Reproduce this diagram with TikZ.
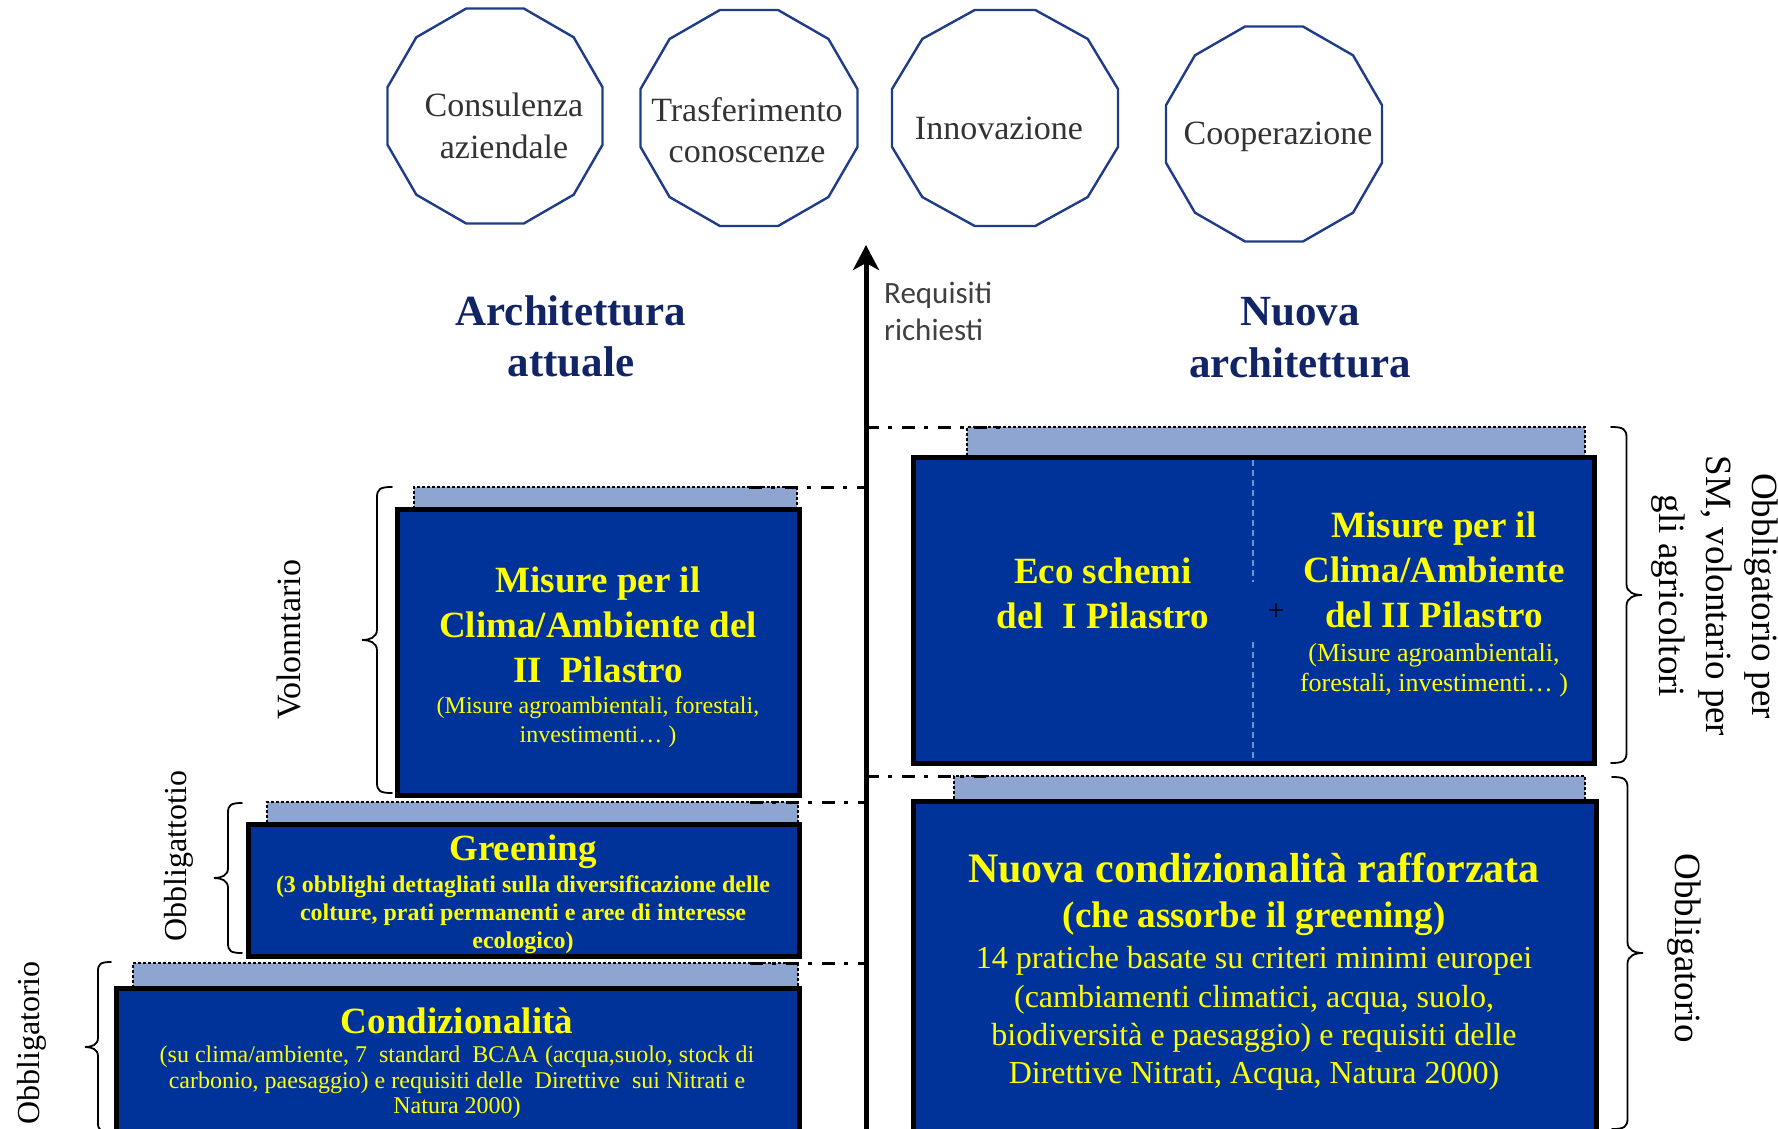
\documentclass[tikz,border=0pt]{standalone}
\usepackage{fontspec}
\setmainfont{Liberation Serif}
\newfontfamily\labelsans{Carlito}
\usetikzlibrary{arrows.meta,calc}

\definecolor{boxblue}{RGB}{0,51,153}
\definecolor{paleblue}{RGB}{143,165,209}
\definecolor{titlenavy}{RGB}{16,36,102}
\definecolor{polyblue}{RGB}{31,60,136}
\definecolor{greytext}{RGB}{51,51,51}
\definecolor{axisgrey}{RGB}{64,64,64}
\definecolor{divider}{RGB}{91,155,213}
\definecolor{textyellow}{RGB}{255,255,0}

\newcommand\fsz[2]{\fontsize{#1}{#2}\selectfont}
% one line of text placed on its baseline
\newcommand\textline[5]{\node[#1, anchor=base] (#2) at (#3,#4) {#5};}
% flat-topped dodecagon: centre x, centre y, half width, half height
\newcommand\dodecagon[4]{%
  \draw[polyline] plot[samples at={15,45,...,345}]
    ({#1+#3/cos(15)*cos(\x)},{#2+#4/cos(15)*sin(\x)}) -- cycle;}
% curly brace opening to the right, tip on the left: x of the hooks, top y, bottom y, depth
\newcommand\bracel[4]{%
  \draw[bracket] (#1,#2)
    .. controls ({#1-0.4*#4},#2) and ({#1-0.5*#4},{#2+2}) .. ({#1-0.5*#4},{#2+0.35*#4})
    -- ({#1-0.5*#4},{(#2+#3)/2-0.35*#4})
    .. controls ({#1-0.5*#4},{(#2+#3)/2-0.08*#4}) and ({#1-0.75*#4},{(#2+#3)/2}) .. ({#1-#4},{(#2+#3)/2})
    .. controls ({#1-0.75*#4},{(#2+#3)/2}) and ({#1-0.5*#4},{(#2+#3)/2+0.08*#4}) .. ({#1-0.5*#4},{(#2+#3)/2+0.35*#4})
    -- ({#1-0.5*#4},{#3-0.35*#4})
    .. controls ({#1-0.5*#4},{#3-2}) and ({#1-0.4*#4},#3) .. (#1,#3);}
% curly brace opening to the left, tip on the right
\newcommand\bracer[4]{%
  \draw[bracket] (#1,#2)
    .. controls ({#1+0.4*#4},#2) and ({#1+0.5*#4},{#2+2}) .. ({#1+0.5*#4},{#2+0.35*#4})
    -- ({#1+0.5*#4},{(#2+#3)/2-0.35*#4})
    .. controls ({#1+0.5*#4},{(#2+#3)/2-0.08*#4}) and ({#1+0.75*#4},{(#2+#3)/2}) .. ({#1+#4},{(#2+#3)/2})
    .. controls ({#1+0.75*#4},{(#2+#3)/2}) and ({#1+0.5*#4},{(#2+#3)/2+0.08*#4}) .. ({#1+0.5*#4},{(#2+#3)/2+0.35*#4})
    -- ({#1+0.5*#4},{#3-0.35*#4})
    .. controls ({#1+0.5*#4},{#3-2}) and ({#1+0.4*#4},#3) .. (#1,#3);}

\begin{document}
\begin{tikzpicture}[x=1pt,y=-1pt,
  polyline/.style={draw=polyblue, line width=2.4pt, line join=round},
  polytext/.style={text=greytext, font=\fsz{34}{40}, inner sep=0pt},
  titletext/.style={text=titlenavy, font=\bfseries\fsz{43}{50}, inner sep=0pt},
  darkbox/.style={draw=black, line width=5pt, fill=boxblue, anchor=north west,
    inner sep=0pt, outer sep=0pt},
  lightbox/.style={draw=black, line width=2.6pt, dash pattern=on 2.6pt off 2.4pt,
    fill=paleblue, anchor=north west, inner sep=0pt, outer sep=0pt},
  headbig/.style={text=textyellow, font=\bfseries\fsz{37}{45}, inner sep=0pt},
  headhuge/.style={text=textyellow, font=\bfseries\fsz{42}{45}, inner sep=0pt},
  notesmall/.style={text=textyellow, font=\fsz{24}{28}, inner sep=0pt},
  notebold/.style={text=textyellow, font=\bfseries\fsz{24}{28}, inner sep=0pt},
  notemid/.style={text=textyellow, font=\fsz{26}{30}, inner sep=0pt},
  notelarge/.style={text=textyellow, font=\fsz{32}{38}, inner sep=0pt},
  sidelabel/.style={text=black, font=\fsz{32}{38}, inner sep=0pt},
  sidelabelr/.style={text=black, font=\fsz{37}{45}, inner sep=0pt},
  dashdot/.style={draw=black, line width=3pt, dash pattern=on 13pt off 9pt on 4pt off 10pt},
  bracket/.style={draw=black, line width=1.8pt, line cap=round},
  axisline/.style={draw=black, line width=5pt,
    -{Stealth[length=25pt, width=26pt, inset=7pt]}},
]
\useasboundingbox (0,0) rectangle (1778,1129);

% ---------- the four services on top ----------
\dodecagon{495}{116}{107.5}{107.5}
\dodecagon{749}{118}{108.5}{108}
\dodecagon{1005}{118}{113}{108}
\dodecagon{1274}{134}{108}{107.5}
\textline{polytext}{adv1}{504}{117}{Consulenza}
\textline{polytext}{adv2}{504}{159}{aziendale}
\textline{polytext}{know1}{747}{122}{Trasferimento}
\textline{polytext}{know2}{747}{163}{conoscenze}
\textline{polytext}{innov}{999}{140}{Innovazione}
\textline{polytext}{coop}{1278}{145}{Cooperazione}

% ---------- column titles ----------
\textline{titletext}{oldt1}{571}{325}{Architettura}
\textline{titletext}{oldt2}{571}{376}{attuale}
\textline{titletext}{newt1}{1300}{325}{Nuova}
\textline{titletext}{newt2}{1300}{377}{architettura}

% ---------- vertical axis ----------
\coordinate (axtop) at (866,245);
\coordinate (axbot) at (866,1140);
\node[text=axisgrey, font=\labelsans\fsz{31}{37}, anchor=base west, inner sep=0pt]
  (req1) at (884,303) {Requisiti};
\node[text=axisgrey, font=\labelsans\fsz{31}{37}, anchor=base west, inner sep=0pt]
  (req2) at (884,340) {richiesti};

% ---------- current architecture (left) ----------
\node[lightbox, minimum width=383pt, minimum height=25pt] (lr1) at (414,487) {};
\node[lightbox, minimum width=531pt, minimum height=25pt] (lr2) at (267,802) {};
\node[lightbox, minimum width=665pt, minimum height=28pt] (lr3) at (133,963) {};
\node[darkbox, minimum width=402pt, minimum height=286pt] (lb1) at (397,509) {};
\node[darkbox, minimum width=551pt, minimum height=132pt] (lb2) at (248,824) {};
\node[darkbox, minimum width=683pt, minimum height=155pt] (lb3) at (116,988) {};

\textline{headbig}{p2a}{598}{592}{Misure per il}
\textline{headbig}{p2b}{598}{637}{Clima/Ambiente del}
\textline{headbig}{p2c}{598}{682}{II~~Pilastro}
\textline{notesmall}{p2d}{598}{713}{(Misure agroambientali, forestali,}
\textline{notesmall}{p2e}{598}{742}{investimenti… )}

\textline{headbig}{gr1}{523}{860}{Greening}
\textline{notebold}{gr2}{523}{892}{(3 obblighi dettagliati sulla diversificazione delle}
\textline{notebold}{gr3}{523}{920}{colture, prati permanenti e aree di interesse}
\textline{notebold}{gr4}{523}{948}{ecologico)}

\textline{headbig}{cd1}{457}{1033}{Condizionalità}
\textline{notesmall}{cd2}{457}{1062}{(su clima/ambiente, 7~~standard~~BCAA (acqua,suolo, stock di}
\textline{notesmall}{cd3}{457}{1088}{carbonio, paesaggio) e requisiti delle~~Direttive~~sui Nitrati e}
\textline{notesmall}{cd4}{457}{1113}{Natura 2000)}

% ---------- new architecture (right) ----------
\node[lightbox, minimum width=618pt, minimum height=33pt] (rr1) at (967,427) {};
\node[lightbox, minimum width=631pt, minimum height=28pt] (rr2) at (954,776) {};
\node[darkbox, minimum width=681pt, minimum height=306pt] (rb1) at (913,457) {};
\node[darkbox, minimum width=683pt, minimum height=345pt] (rb2) at (913,801) {};

\coordinate (divtop) at (1253,460);
\coordinate (divgap1) at (1253,582);
\coordinate (divgap2) at (1253,642);
\coordinate (divbot) at (1253,761);
\draw[divider, line width=1.4pt, dash pattern=on 6pt off 4pt] (divtop) -- (divgap1);
\draw[divider, line width=1.4pt, dash pattern=on 6pt off 4pt] (divgap2) -- (divbot);
\node[text=black, font=\fsz{30}{36}, inner sep=0pt] (plus) at (1276,612) {+};

\textline{headbig}{eco1}{1103}{583}{Eco schemi}
\textline{headbig}{eco2}{1103}{628}{del~~I Pilastro}
\textline{headbig}{ms1}{1434}{537}{Misure per il}
\textline{headbig}{ms2}{1434}{582}{Clima/Ambiente}
\textline{headbig}{ms3}{1434}{627}{del II Pilastro}
\textline{notemid}{ms4}{1434}{661}{(Misure agroambientali,}
\textline{notemid}{ms5}{1434}{691}{forestali, investimenti… )}

\textline{headhuge}{nc1}{1254}{882}{Nuova condizionalità rafforzata}
\textline{headbig}{nc2}{1254}{927}{(che assorbe il greening)}
\textline{notelarge}{nc3}{1254}{968}{14 pratiche basate su criteri minimi europei}
\textline{notelarge}{nc4}{1254}{1007}{(cambiamenti climatici, acqua, suolo,}
\textline{notelarge}{nc5}{1254}{1045}{biodiversità e paesaggio) e requisiti delle}
\textline{notelarge}{nc6}{1254}{1083}{Direttive Nitrati, Acqua, Natura 2000)}

% ---------- level guides to the axis ----------
\draw[dashdot] ([xshift=-48pt]lr1.north east) -- (lr1.north east -| axtop);
\draw[dashdot] ([xshift=-48pt]lr2.north east) -- (lr2.north east -| axtop);
\draw[dashdot] ([xshift=-48pt]lr3.north east) -- (lr3.north east -| axtop);
\draw[dashdot] (rr1.north west -| axtop) -- ([xshift=33pt]rr1.north west);
\draw[dashdot] (rr2.north west -| axtop) -- ([xshift=32pt]rr2.north west);
\draw[axisline] (axbot) -- (axtop);

% ---------- braces and their labels ----------
\bracel{392}{487}{793}{30}
\bracel{242}{803}{953}{28}
\bracel{111}{962}{1132}{26}
\bracer{1611}{427}{763}{31}
\bracer{1612}{777}{1129}{31}

\node[sidelabel, font=\fsz{34}{40}, rotate=90, anchor=base] (vol) at (300,640) {Volonntario};
\node[sidelabel, rotate=90, anchor=base] (obgr) at (186,856) {Obbligattotio};
\node[sidelabel, rotate=90, anchor=base] (obcd) at (39,1043) {Obbligatorio};
\node[sidelabelr, rotate=-90, anchor=base] (obsm1) at (1752,596) {Obbligatorio per};
\node[sidelabelr, rotate=-90, anchor=base] (obsm2) at (1706,596) {SM, volontario per};
\node[sidelabelr, rotate=-90, anchor=base] (obsm3) at (1659,596) {gli agricoltori};
\node[sidelabelr, rotate=-90, anchor=base] (obnew) at (1675,948) {Obbligatorio};
\end{tikzpicture}
\end{document}
